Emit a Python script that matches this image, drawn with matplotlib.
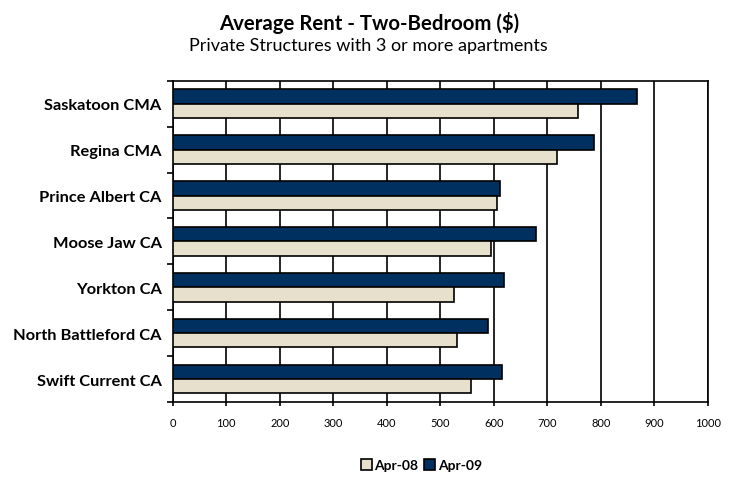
import matplotlib.pyplot as plt
import numpy as np

plt.rcParams['font.family'] = ['Lato', 'DejaVu Sans']

centres = ['Saskatoon CMA', 'Regina CMA', 'Prince Albert CA', 'Moose Jaw CA',
           'Yorkton CA', 'North Battleford CA', 'Swift Current CA']
apr08 = [757, 719, 606, 594, 526, 531, 557]
apr09 = [868, 787, 611, 678, 619, 590, 615]

navy = '#00305f'
beige = '#e6e0cc'

fig = plt.figure(figsize=(7.29, 4.81), dpi=100)
ax = fig.add_axes([0.237, 0.162, 0.734, 0.668])

y = np.arange(len(centres))
h = 0.31
ax.barh(y - h / 2, apr09, height=h, color=navy, edgecolor='black', linewidth=1.2,
        label='Apr-09', zorder=3)
ax.barh(y + h / 2, apr08, height=h, color=beige, edgecolor='black', linewidth=1.2,
        label='Apr-08', zorder=3)

ax.set_xlim(0, 1000)
ax.set_ylim(len(centres) - 0.5, -0.5)
ax.set_xticks(np.arange(0, 1001, 100))
ax.tick_params(axis='x', labelsize=8, length=3, width=1.2, direction='out', pad=8)
ax.grid(axis='x', color='black', linewidth=1.2, zorder=0)

# category labels centred, ticks between groups
ax.set_yticks(y)
ax.set_yticklabels(centres, fontsize=11.8, fontweight='bold')
ax.tick_params(axis='y', length=0, pad=8)
ax.set_yticks(np.arange(len(centres) + 1) - 0.5, minor=True)
ax.tick_params(axis='y', which='minor', length=4, width=1.2, direction='out')

for s in ax.spines.values():
    s.set_linewidth(1.2)

fig.text(0.506, 0.953, 'Average Rent - Two-Bedroom ($)', ha='center', va='center',
         fontsize=14.7, fontweight='bold')
fig.text(0.506, 0.905, 'Private Structures with 3 or more apartments', ha='center',
         va='center', fontsize=13)

handles, labels = ax.get_legend_handles_labels()
fig.legend(handles[::-1], labels[::-1], loc='center', bbox_to_anchor=(0.578, 0.031),
           ncol=2, frameon=False, handlelength=0.8, handleheight=0.8,
           handletextpad=0.2, columnspacing=0.4,
           prop={'size': 10, 'weight': 'bold'})

fig.savefig('out.png', dpi=100)
